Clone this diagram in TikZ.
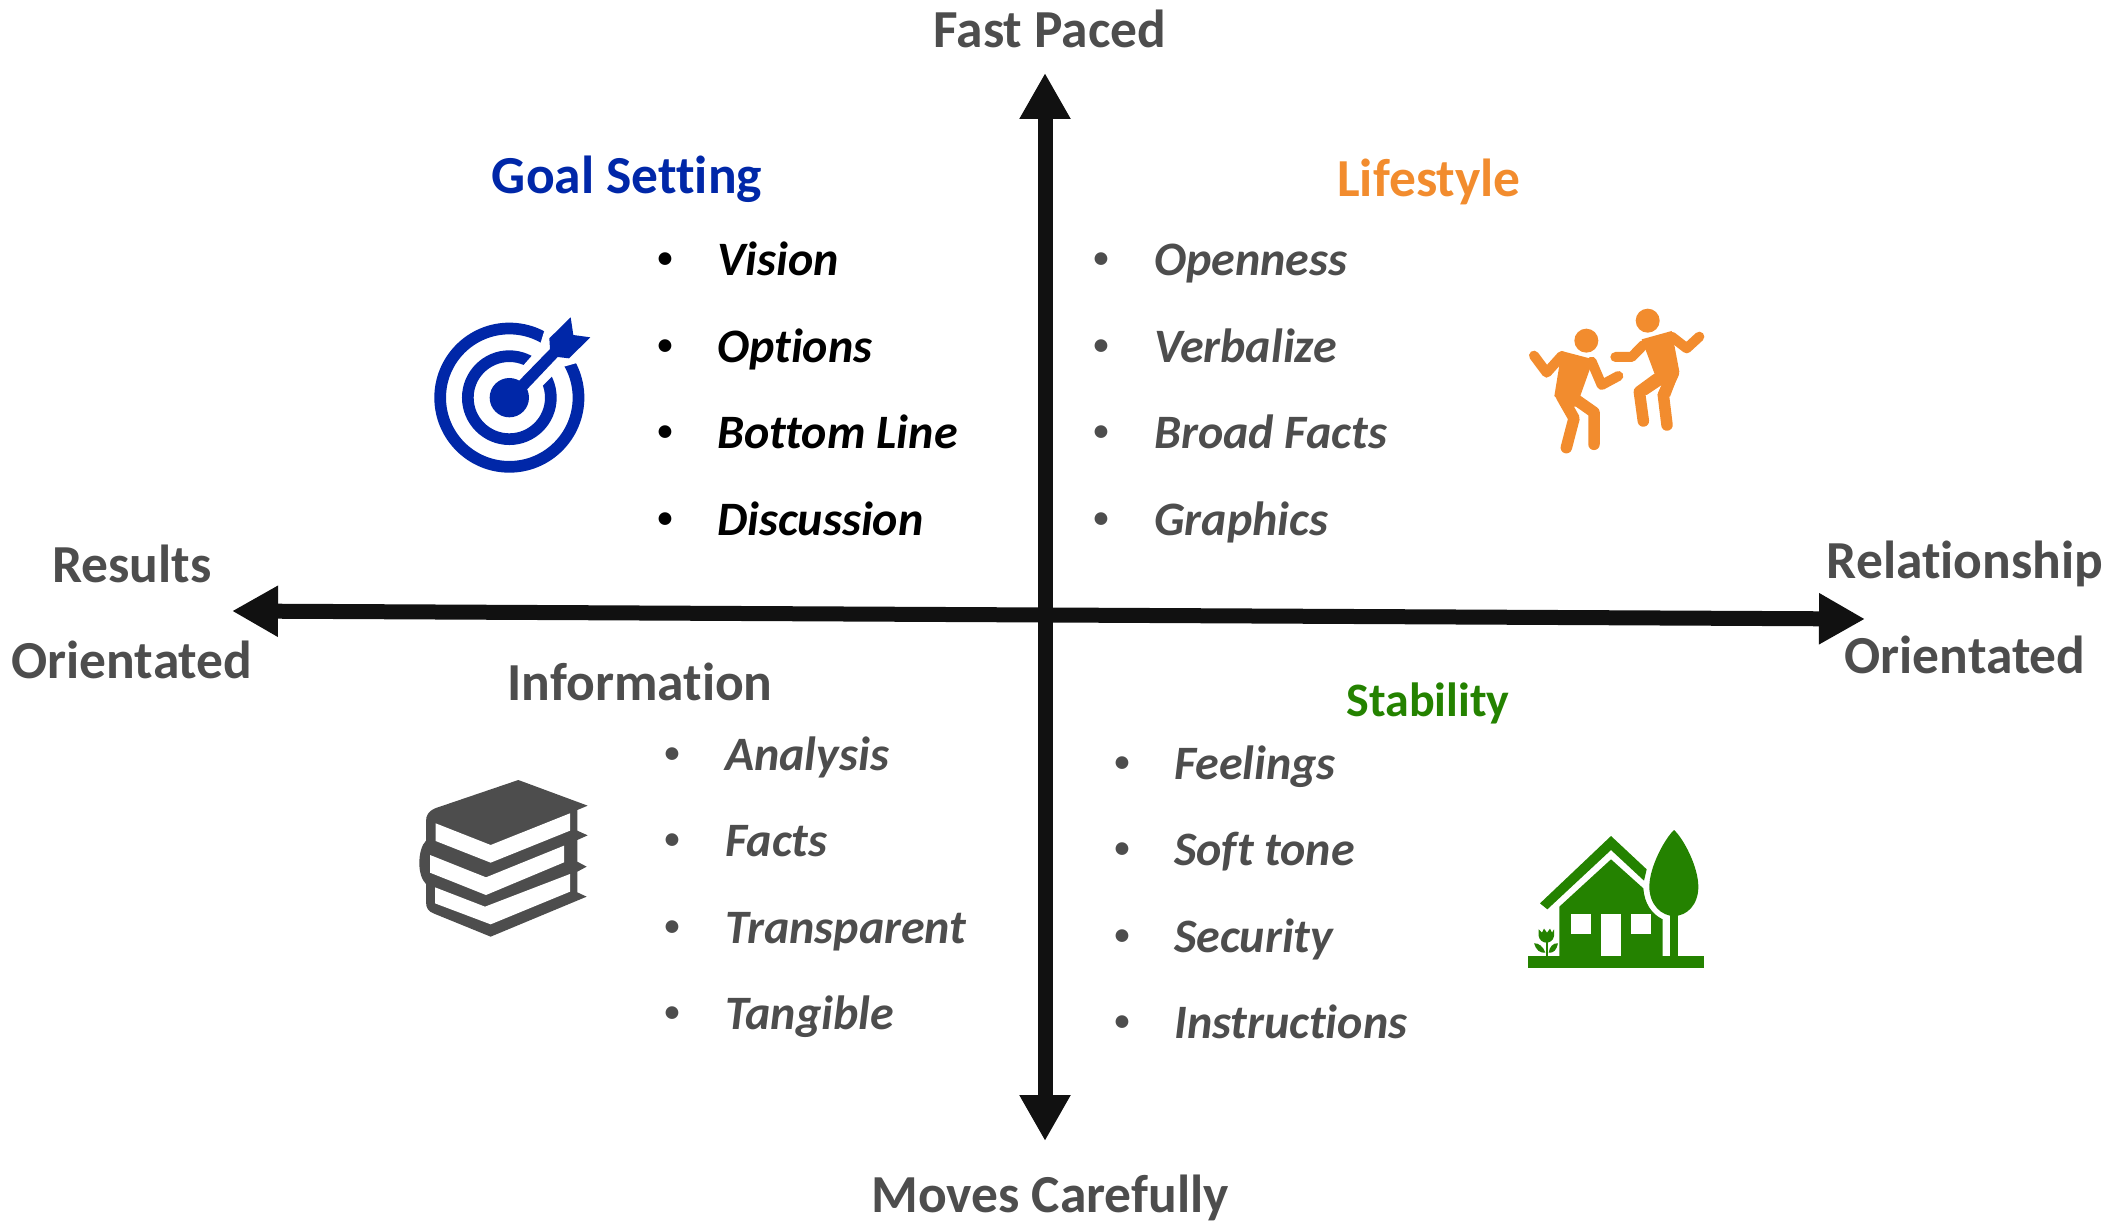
\documentclass[tikz,border=0pt]{standalone}
\usepackage{fontspec}
\setmainfont[RawFeature={-liga;-clig;-dlig}]{Carlito}
\usetikzlibrary{arrows.meta}
\definecolor{txtgray}{HTML}{4D4D4D}
\definecolor{axisblack}{HTML}{111111}
\definecolor{goalblue}{HTML}{0027A8}
\definecolor{lifeorange}{HTML}{F28C2E}
\definecolor{stabgreen}{HTML}{248200}
\tikzset{
  axisline/.style={draw=axisblack,line width=15pt,{Triangle[length=46pt,width=48pt]}-{Triangle[length=46pt,width=48pt]}},
  axislabel/.style={anchor=base,font=\fontsize{53.5}{56}\selectfont\bfseries,text=txtgray,inner sep=0pt},
  heading/.style={anchor=base,font=\fontsize{53.5}{56}\selectfont\bfseries,inner sep=0pt},
  item/.style={anchor=base west,font=\fontsize{48}{52}\selectfont\bfseries\itshape,inner sep=0pt,text=txtgray},
  dot/.style={anchor=base,font=\fontsize{30}{34}\selectfont\bfseries,inner sep=0pt,text=txtgray,yshift=8pt},
  icon/.style={x=0.33333pt,y=-0.33333pt,line join=round},
}
\begin{document}
\begin{tikzpicture}[x=1pt,y=-1pt]
\useasboundingbox (0,0) rectangle (2124,1222);
% axes
\coordinate (axN) at (1045,73);
\coordinate (axS) at (1045,1141);
\coordinate (axW) at (232,611);
\coordinate (axE) at (1865,619);
\draw[axisline] (axW) -- (axE);
\draw[axisline] (axN) -- (axS);
% axis labels
\node[axislabel] (fast) at (1050,48) {Fast Paced};
\node[axislabel] (moves) at (1050,1212) {Moves Carefully};
\node[axislabel] (res1) at (132,582) {Results};
\node[axislabel] (res2) at (132,678) {Orientated};
\node[axislabel] (rel1) at (1965,578) {Relationship};
\node[axislabel] (rel2) at (1965,673) {Orientated};
% headings
\node[heading,text=goalblue] (hgoal) at (627,194) {Goal Setting};
\node[heading,text=lifeorange] (hlife) at (1429,197) {Lifestyle};
\node[heading,text=txtgray] (hinfo) at (640,700) {Information};
\node[heading,text=stabgreen,font=\fontsize{48}{52}\selectfont\bfseries] (hstab) at (1428,716) {Stability};
% goal list
\foreach \n/\y/\t in {a/276/Vision,b/362/Options,c/448/Bottom Line,d/535/Discussion}{
  \node[dot,text=black] (gd\n) at (665,\y) {•};
  \node[item,text=black] (g\n) at (717,\y) {\t};
}
% lifestyle list
\foreach \n/\y/\t in {a/276/Openness,b/362/Verbalize,c/448/Broad Facts,d/535/Graphics}{
  \node[dot] (ld\n) at (1101,\y) {•};
  \node[item] (l\n) at (1154,\y) {\t};
}
% information list
\foreach \n/\y/\t in {a/770/Analysis,b/856/Facts,c/943/Transparent,d/1029/Tangible}{
  \node[dot] (id\n) at (672,\y) {•};
  \node[item] (i\n) at (725,\y) {\t};
}
% stability list
\foreach \n/\y/\t in {a/779/Feelings,b/865/Soft tone,c/952/Security,d/1038/Instructions}{
  \node[dot] (sd\n) at (1122,\y) {•};
  \node[item] (s\n) at (1174,\y) {\t};
}
% target icon
\begin{scope}[shift={(400,280)},icon]
  \draw[goalblue,line width=11.7pt] (328,353) circle (207.5);
  \draw[goalblue,line width=11.7pt] (328,353) circle (124.5);
  \fill[white] (340,290) -- (395,228) -- (422,188) -- (432,155) -- (500,90) -- (600,190) -- (527,250) -- (492,260) -- (457,288) -- (430,315) -- (390,350) -- cycle;
  \fill[goalblue] (328,353) circle (59);
  \fill[goalblue] (340,320) -- (450,207) -- (448,175) -- (512,112) -- (520,165) -- (571,172) -- (507,235) -- (473,231) -- (365,345) -- cycle;
\end{scope}
% dancers icon
\begin{scope}[shift={(1500,280)},icon,line cap=round]
  \fill[lifeorange] (259,182) circle (36);
  \fill[lifeorange] (443,122) circle (36);
  \draw[lifeorange,line width=10pt] (102,227) -- (140,278) -- (185,228);
  \draw[lifeorange,line width=10pt] (275,245) -- (305,315) -- (355,288);
  \fill[lifeorange] (185,213) -- (280,238) -- (240,350) -- (262,372) -- (200,385) -- (163,348) -- cycle;
  \draw[lifeorange,line width=11.5pt] (215,350) -- (282,397) -- (282,493);
  \draw[lifeorange,line width=11.5pt] (185,350) -- (222,415) -- (199,503);
  \draw[lifeorange,line width=10pt] (346,231) -- (395,231) -- (430,195);
  \draw[lifeorange,line width=10pt] (515,170) -- (560,205) -- (598,170);
  \fill[lifeorange] (425,178) -- (515,153) -- (538,275) -- (510,350) -- (472,345) -- (485,315) -- (440,345) -- (402,335) -- (465,285) -- cycle;
  \draw[lifeorange,line width=11.5pt] (470,297) -- (418,335) -- (430,423);
  \draw[lifeorange,line width=11.5pt] (520,280) -- (490,345) -- (501,435);
\end{scope}
% books icon
\begin{scope}[shift={(400,760)},icon]
  \fill[txtgray] (355,60) -- (563,137) -- (532,150) -- (532,212) -- (563,226) -- (532,240) -- (532,305) -- (560,320) -- (532,335) -- (532,397) -- (560,410) -- (272,530) -- (105,462) .. controls (85,455) and (78,445) .. (78,425) -- (78,372) .. controls (65,360) and (58,335) .. (58,310) .. controls (58,280) and (65,255) .. (78,242) -- (78,185) .. controls (78,165) and (85,155) .. (105,145) -- cycle;
  \fill[white] (107,190) -- (272,255) -- (510,160) -- (510,212) -- (272,308) -- (107,243) -- cycle;
  \fill[white] (90,285) -- (258,352) -- (492,257) -- (492,307) -- (258,405) -- (90,338) -- cycle;
  \fill[white] (105,382) -- (255,440) -- (510,342) -- (510,395) -- (272,493) -- (105,430) -- cycle;
\end{scope}
% house icon
\begin{scope}[shift={(1510,810)},icon]
  \fill[stabgreen] (54,438) rectangle (582,473);
  \fill[stabgreen] (90,280) -- (303,78) -- (410,178) -- (402,212) -- (303,120) -- (112,298) -- cycle;
  \fill[stabgreen] (148,290) -- (303,148) -- (400,235) .. controls (403,280) and (425,312) .. (458,328) -- (458,438) -- (148,438) -- cycle;
  \fill[white] (184,313) rectangle (244,373);
  \fill[white] (362,313) rectangle (422,373);
  \fill[white] (273,313) rectangle (333,438);
  \fill[stabgreen] (481,310) rectangle (505,438);
  \fill[stabgreen] (492,60) .. controls (520,85) and (565,170) .. (565,230) .. controls (565,285) and (530,318) .. (492,318) .. controls (455,318) and (418,285) .. (418,230) .. controls (418,170) and (465,85) .. cycle;
  \fill[stabgreen] (108,395) rectangle (114,438);
  \fill[stabgreen] (86,358) -- (96,368) -- (102,356) -- (111,368) -- (120,356) -- (126,368) -- (132,358) -- (132,378) .. controls (130,392) and (118,398) .. (110,398) .. controls (98,398) and (88,390) .. (86,378) -- cycle;
  \fill[stabgreen] (72,400) .. controls (85,398) and (100,410) .. (106,428) .. controls (90,430) and (78,420) .. cycle;
  \fill[stabgreen] (144,400) .. controls (130,398) and (118,410) .. (116,428) .. controls (130,430) and (140,420) .. cycle;
\end{scope}
\end{tikzpicture}
\end{document}
